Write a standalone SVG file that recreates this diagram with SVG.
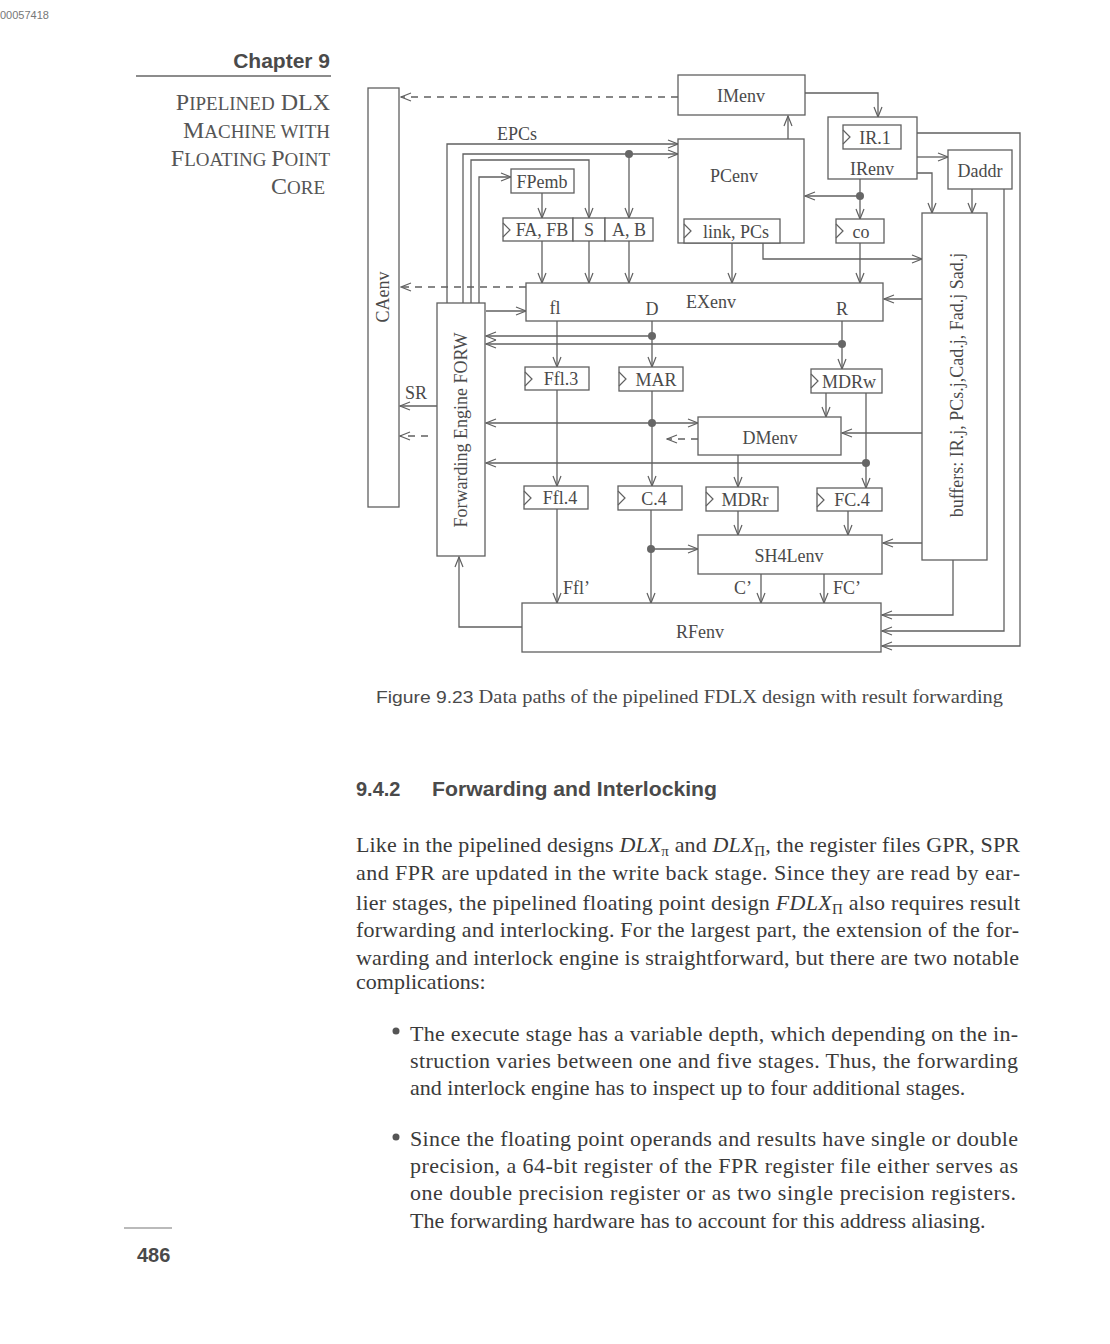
<svg xmlns="http://www.w3.org/2000/svg" width="1110" height="1344" viewBox="0 0 1110 1344">
<style>
.bx{fill:#fff;stroke:#606060;stroke-width:1.3}
.ck{fill:none;stroke:#606060;stroke-width:1.2}
.w{fill:none;stroke:#606060;stroke-width:1.3}
.d{fill:none;stroke:#606060;stroke-width:1.3;stroke-dasharray:7 6}
.t{font-family:"Liberation Serif",serif;font-size:18px;fill:#4a4a4a}
.tm{font-family:"Liberation Serif",serif;font-size:18px;fill:#4a4a4a;text-anchor:middle}
.p{font-family:"Liberation Serif",serif;font-size:22px;fill:#3a3a3a}
.sc{font-family:"Liberation Serif",serif;fill:#555;text-anchor:end}
.h{font-family:"Liberation Sans",sans-serif;font-weight:bold;fill:#4a4a4a}
.dot{fill:#666}
</style>
<defs>
<marker id="a" markerWidth="12" markerHeight="10" refX="11" refY="5" orient="auto" markerUnits="userSpaceOnUse">
<path d="M1,1 L11,5 L1,9" fill="none" stroke="#606060" stroke-width="1.2"/>
</marker>
</defs>
<rect width="1110" height="1344" fill="#fff"/>

<text x="0" y="19" font-family="Liberation Sans,sans-serif" font-size="11" fill="#777">00057418</text>
<text x="330" y="68" class="h" font-size="21" text-anchor="end">Chapter 9</text>
<line x1="136" y1="76" x2="331" y2="76" stroke="#666" stroke-width="1.3"/>
<text x="330" y="110" class="sc"><tspan font-size="24">P</tspan><tspan font-size="19">IPELINED</tspan><tspan font-size="24"> DLX</tspan></text>
<text x="330" y="138" class="sc"><tspan font-size="24">M</tspan><tspan font-size="19">ACHINE WITH</tspan></text>
<text x="330" y="166" class="sc"><tspan font-size="24">F</tspan><tspan font-size="19">LOATING </tspan><tspan font-size="24">P</tspan><tspan font-size="19">OINT</tspan></text>
<text x="325" y="194" class="sc"><tspan font-size="24">C</tspan><tspan font-size="19">ORE</tspan></text>

<g id="connectors">
<path class="d" d="M678,97 H401" marker-end="url(#a)"/>
<path class="w" d="M805,93 H878 V117" marker-end="url(#a)"/>
<path class="w" d="M780,226 H788 V116" marker-end="url(#a)"/>
<path class="w" d="M860,179 V219" marker-end="url(#a)"/>
<path class="w" d="M860,196 H805" marker-end="url(#a)"/>
<path class="w" d="M860,243 V283" marker-end="url(#a)"/>
<path class="w" d="M917,133 H1020 V646 H882" marker-end="url(#a)"/>
<path class="w" d="M917,157 H948" marker-end="url(#a)"/>
<path class="w" d="M917,173 H932 V213" marker-end="url(#a)"/>
<path class="w" d="M972,189 V213" marker-end="url(#a)"/>
<path class="w" d="M1004,189 V631 H882" marker-end="url(#a)"/>
<path class="w" d="M953,560 V615 H882" marker-end="url(#a)"/>
<path class="w" d="M732,243 V283" marker-end="url(#a)"/>
<path class="w" d="M763,243 V259 H922" marker-end="url(#a)"/>
<path class="w" d="M922,299 H884" marker-end="url(#a)"/>
<path class="w" d="M922,433 H842" marker-end="url(#a)"/>
<path class="w" d="M922,543 H883" marker-end="url(#a)"/>
<path class="d" d="M526,287 H401" marker-end="url(#a)"/>
<path class="w" d="M447,303 V144 H678" marker-end="url(#a)"/>
<path class="w" d="M463,303 V154 H678" marker-end="url(#a)"/>
<path class="w" d="M629,154 V218" marker-end="url(#a)"/>
<path class="w" d="M471,303 V160 H589 V218" marker-end="url(#a)"/>
<path class="w" d="M479,303 V177 H511" marker-end="url(#a)"/>
<path class="w" d="M542,193 V218" marker-end="url(#a)"/>
<path class="w" d="M542,241 V283" marker-end="url(#a)"/>
<path class="w" d="M589,241 V283" marker-end="url(#a)"/>
<path class="w" d="M629,241 V283" marker-end="url(#a)"/>
<path class="w" d="M486,311 H526" marker-end="url(#a)"/>
<path class="w" d="M652,321 V367" marker-end="url(#a)"/>
<path class="w" d="M652,336 H486" marker-end="url(#a)"/>
<path class="w" d="M842,321 V369" marker-end="url(#a)"/>
<path class="w" d="M842,344 H486" marker-end="url(#a)"/>
<path class="w" d="M557,321 V367" marker-end="url(#a)"/>
<path class="w" d="M557,390 V486" marker-end="url(#a)"/>
<path class="w" d="M652,391 V486" marker-end="url(#a)"/>
<path class="w" d="M652,423 H486" marker-end="url(#a)"/>
<path class="w" d="M652,423 H698" marker-end="url(#a)"/>
<path class="w" d="M826,393 V417" marker-end="url(#a)"/>
<path class="w" d="M866,393 V488" marker-end="url(#a)"/>
<path class="w" d="M866,463 H486" marker-end="url(#a)"/>
<path class="w" d="M738,455 V487" marker-end="url(#a)"/>
<path class="d" d="M698,439 H667" marker-end="url(#a)"/>
<path class="w" d="M651,510 V603" marker-end="url(#a)"/>
<path class="w" d="M651,549 H698" marker-end="url(#a)"/>
<path class="w" d="M738,511 V535" marker-end="url(#a)"/>
<path class="w" d="M848,511 V535" marker-end="url(#a)"/>
<path class="w" d="M761,574 V603" marker-end="url(#a)"/>
<path class="w" d="M824,574 V603" marker-end="url(#a)"/>
<path class="w" d="M557,509 V603" marker-end="url(#a)"/>
<path class="w" d="M522,627 H459 V557" marker-end="url(#a)"/>
<path class="w" d="M437,406 H400" marker-end="url(#a)"/>
<path class="d" d="M428,436 H400" marker-end="url(#a)"/>
<circle class="dot" cx="860" cy="196" r="4"/>
<circle class="dot" cx="629" cy="154" r="4"/>
<circle class="dot" cx="652" cy="336" r="4"/>
<circle class="dot" cx="842" cy="344" r="4"/>
<circle class="dot" cx="652" cy="423" r="4"/>
<circle class="dot" cx="866" cy="463" r="4"/>
<circle class="dot" cx="651" cy="549" r="4"/>
<text x="517" y="140" class="tm">EPCs</text>
<text x="416" y="399" class="tm">SR</text>
<text x="563" y="594" class="t">Ffl’</text>
<text x="752" y="594" class="t" text-anchor="end">C’</text>
<text x="833" y="594" class="t">FC’</text>
</g>

<g id="CAenv"><rect class="bx" x="368" y="88" width="31" height="419"/><text class="tm" transform="rotate(-90 389 297)" x="389" y="297">CAenv</text></g>
<g id="IMenv"><rect class="bx" x="678" y="75" width="127" height="40"/><text class="tm" x="741" y="102">IMenv</text></g>
<g id="PCenv"><rect class="bx" x="678" y="139" width="126" height="104"/><text class="tm" x="734" y="182">PCenv</text></g>
<g id="linkPCs"><rect class="bx" x="684" y="219" width="96" height="24"/><path class="ck" d="M684,224 L691,231 L684,238"/><text class="tm" x="736" y="238">link, PCs</text></g>
<g id="IRenv"><rect class="bx" x="828" y="117" width="89" height="62"/><text class="tm" x="872" y="175">IRenv</text></g>
<g id="IR1"><rect class="bx" x="843" y="125" width="58" height="24"/><path class="ck" d="M843,130 L850,137 L843,144"/><text class="tm" x="875" y="144">IR.1</text></g>
<g id="Daddr"><rect class="bx" x="948" y="150" width="64" height="39"/><text class="tm" x="980" y="177">Daddr</text></g>
<g id="co"><rect class="bx" x="836" y="219" width="48" height="24"/><path class="ck" d="M836,224 L843,231 L836,238"/><text class="tm" x="861" y="238">co</text></g>
<g id="buffers"><rect class="bx" x="922" y="213" width="65" height="347"/><text class="tm" transform="rotate(-90 963 385)" x="963" y="385">buffers: IR.j, PCs.j,Cad.j, Fad.j Sad.j</text></g>
<g id="FPemb"><rect class="bx" x="511" y="169" width="63" height="24"/><text class="tm" x="542" y="188">FPemb</text></g>
<g id="FAFB"><rect class="bx" x="503" y="218" width="70" height="23"/><path class="ck" d="M503,223 L510,230 L503,237"/><text class="tm" x="542" y="236">FA, FB</text></g>
<g id="S"><rect class="bx" x="573" y="218" width="32" height="23"/><text class="tm" x="589" y="236">S</text></g>
<g id="AB"><rect class="bx" x="605" y="218" width="48" height="23"/><text class="tm" x="629" y="236">A, B</text></g>
<g id="FORW"><rect class="bx" x="437" y="303" width="48" height="253"/><text class="tm" transform="rotate(-90 467 430)" x="467" y="430" font-size="19">Forwarding Engine FORW</text></g>
<g id="EXenv"><rect class="bx" x="526" y="283" width="357" height="38"/><text class="tm" x="555" y="314">fl</text><text class="tm" x="652" y="315">D</text><text class="tm" x="711" y="308">EXenv</text><text class="tm" x="842" y="315">R</text></g>
<g id="Ffl3"><rect class="bx" x="525" y="367" width="64" height="23"/><path class="ck" d="M525,372 L532,379 L525,386"/><text class="tm" x="561" y="385">Ffl.3</text></g>
<g id="MAR"><rect class="bx" x="619" y="367" width="64" height="24"/><path class="ck" d="M619,372 L626,379 L619,386"/><text class="tm" x="656" y="386">MAR</text></g>
<g id="MDRw"><rect class="bx" x="811" y="369" width="71" height="24"/><path class="ck" d="M811,374 L818,381 L811,388"/><text class="tm" x="849" y="388">MDRw</text></g>
<g id="DMenv"><rect class="bx" x="698" y="417" width="143" height="38"/><text class="tm" x="770" y="444">DMenv</text></g>
<g id="Ffl4"><rect class="bx" x="524" y="486" width="64" height="23"/><path class="ck" d="M524,491 L531,498 L524,505"/><text class="tm" x="560" y="504">Ffl.4</text></g>
<g id="C4"><rect class="bx" x="618" y="486" width="64" height="24"/><path class="ck" d="M618,491 L625,498 L618,505"/><text class="tm" x="654" y="505">C.4</text></g>
<g id="MDRr"><rect class="bx" x="706" y="487" width="72" height="24"/><path class="ck" d="M706,492 L713,499 L706,506"/><text class="tm" x="745" y="506">MDRr</text></g>
<g id="FC4"><rect class="bx" x="817" y="488" width="65" height="23"/><path class="ck" d="M817,493 L824,500 L817,507"/><text class="tm" x="852" y="506">FC.4</text></g>
<g id="SH4Lenv"><rect class="bx" x="698" y="535" width="184" height="39"/><text class="tm" x="789" y="562">SH4Lenv</text></g>
<g id="RFenv"><rect class="bx" x="522" y="603" width="359" height="49"/><text class="tm" x="700" y="638">RFenv</text></g>

<text x="376" y="703" font-family="Liberation Serif,serif" font-size="18" fill="#4a4a4a" textLength="627" lengthAdjust="spacingAndGlyphs"><tspan font-family="Liberation Sans,sans-serif" font-size="17">Figure 9.23</tspan> Data paths of the pipelined FDLX design with result forwarding</text>

<text x="356" y="796" class="h" font-size="20">9.4.2</text>
<text x="432" y="796" class="h" font-size="20" textLength="285" lengthAdjust="spacingAndGlyphs">Forwarding and Interlocking</text>

<text class="p" x="356" y="852" textLength="664" lengthAdjust="spacing">Like in the pipelined designs <tspan font-style="italic">DLX</tspan><tspan font-size="15" dy="4">π</tspan><tspan dy="-4"> and </tspan><tspan font-style="italic">DLX</tspan><tspan font-size="15" dy="4">Π</tspan><tspan dy="-4">, the register files GPR, SPR</tspan></text>
<text class="p" x="356" y="880" textLength="664" lengthAdjust="spacing">and FPR are updated in the write back stage. Since they are read by ear-</text>
<text class="p" x="356" y="910" textLength="664" lengthAdjust="spacing">lier stages, the pipelined floating point design <tspan font-style="italic">FDLX</tspan><tspan font-size="15" dy="4">Π</tspan><tspan dy="-4"> also requires result</tspan></text>
<text class="p" x="356" y="937" textLength="663" lengthAdjust="spacing">forwarding and interlocking. For the largest part, the extension of the for-</text>
<text class="p" x="356" y="965" textLength="663" lengthAdjust="spacing">warding and interlock engine is straightforward, but there are two notable</text>
<text class="p" x="356" y="989">complications:</text>

<circle cx="396" cy="1031" r="3.5" fill="#555"/>
<text class="p" x="410" y="1041" textLength="608" lengthAdjust="spacing">The execute stage has a variable depth, which depending on the in-</text>
<text class="p" x="410" y="1068" textLength="608" lengthAdjust="spacing">struction varies between one and five stages. Thus, the forwarding</text>
<text class="p" x="410" y="1095">and interlock engine has to inspect up to four additional stages.</text>

<circle cx="396" cy="1137" r="3.5" fill="#555"/>
<text class="p" x="410" y="1146" textLength="608" lengthAdjust="spacing">Since the floating point operands and results have single or double</text>
<text class="p" x="410" y="1173" textLength="608" lengthAdjust="spacing">precision, a 64-bit register of the FPR register file either serves as</text>
<text class="p" x="410" y="1200" textLength="606" lengthAdjust="spacing">one double precision register or as two single precision registers.</text>
<text class="p" x="410" y="1228">The forwarding hardware has to account for this address aliasing.</text>

<line x1="124" y1="1228" x2="172" y2="1228" stroke="#777" stroke-width="1.2"/>
<text x="137" y="1262" class="h" font-size="20">486</text>
</svg>
